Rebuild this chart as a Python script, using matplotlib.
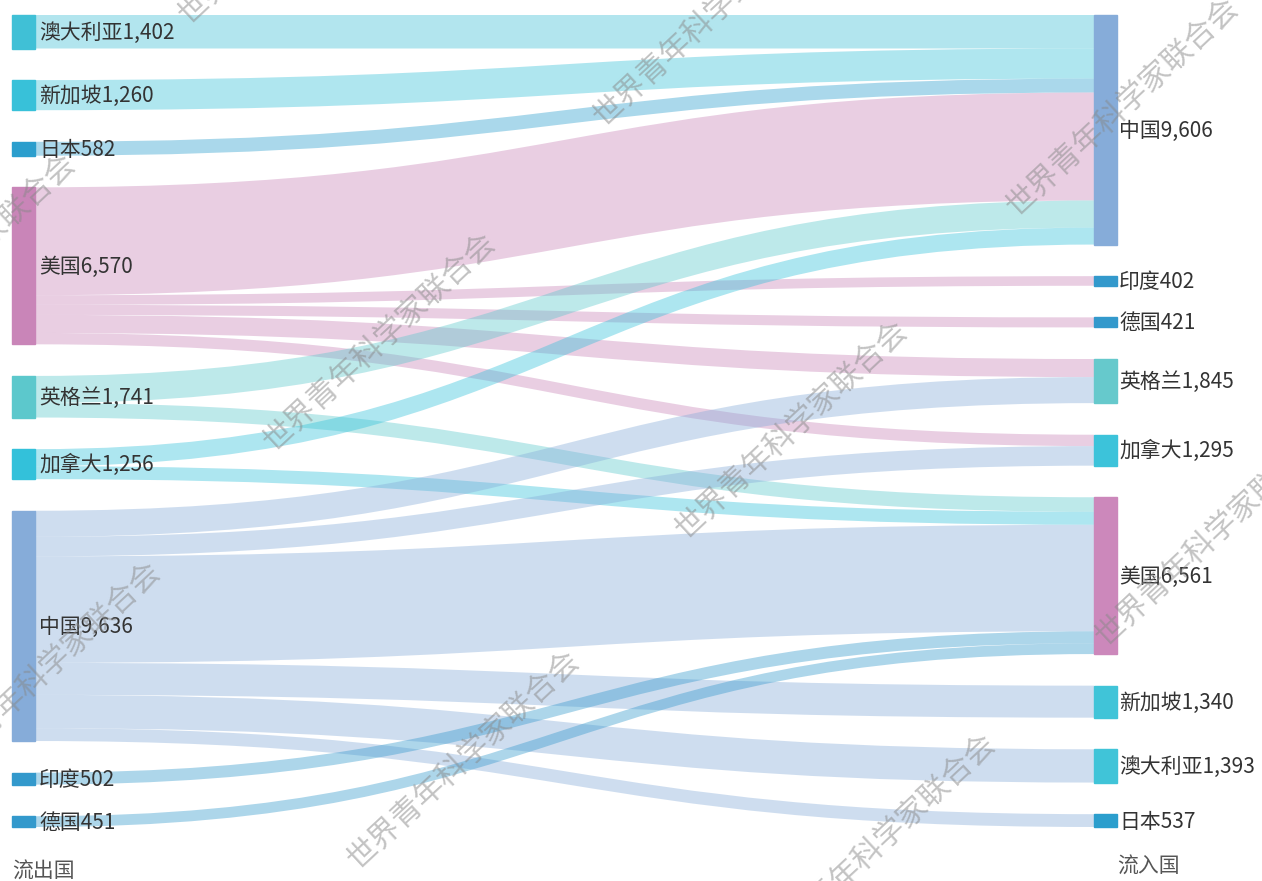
import matplotlib
matplotlib.use("Agg")
import matplotlib.pyplot as plt
from matplotlib.path import Path
from matplotlib.patches import PathPatch, Rectangle

plt.rcParams['font.family'] = ['Noto Sans CJK SC', 'DejaVu Sans']

# node order in each column (top to bottom)
src_nodes = ['澳大利亚', '新加坡', '日本', '美国', '英格兰', '加拿大', '中国', '印度', '德国']
dst_nodes = ['中国', '印度', '德国', '英格兰', '加拿大', '美国', '新加坡', '澳大利亚', '日本']

# flows: source, target, value
flow_src = ['澳大利亚', '新加坡', '日本', '美国', '美国', '美国', '美国', '美国',
            '英格兰', '英格兰', '加拿大', '加拿大',
            '中国', '中国', '中国', '中国', '中国', '中国', '印度', '德国']
flow_dst = ['中国', '中国', '中国', '中国', '印度', '德国', '英格兰', '加拿大',
            '中国', '美国', '中国', '美国',
            '英格兰', '加拿大', '美国', '新加坡', '澳大利亚', '日本', '美国', '美国']
flow_val = [1402, 1260, 582, 4516, 402, 421, 755, 476,
            1133, 608, 713, 543,
            1090, 819, 4457, 1340, 1393, 537, 502, 451]

src_colors = {'澳大利亚': '#40c0d6', '新加坡': '#38c1d9', '日本': '#2b9ecd', '美国': '#c985b8',
              '英格兰': '#5cc8cc', '加拿大': '#33c1da', '中国': '#86acd9', '印度': '#3399cc',
              '德国': '#3399cc'}
dst_colors = {'中国': '#86acd9', '印度': '#3399cc', '德国': '#3399cc', '英格兰': '#66c9cc',
              '加拿大': '#3cc3da', '美国': '#cc88bb', '新加坡': '#40c4d8', '澳大利亚': '#40c4d8',
              '日本': '#2b9ecd'}

# layout (pixels)
W, H = 1262, 881
col_top, col_bottom, gap_px = 15, 827, 31.6
x_left, x_right, node_w = 12, 1094, 23

src_tot = {n: sum(v for s, v in zip(flow_src, flow_val) if s == n) for n in src_nodes}
dst_tot = {n: sum(v for d, v in zip(flow_dst, flow_val) if d == n) for n in dst_nodes}
total = sum(flow_val)
k = (col_bottom - col_top - gap_px * (len(src_nodes) - 1)) / total

fig = plt.figure(figsize=(W / 100, H / 100), dpi=100)
ax = fig.add_axes([0, 0, 1, 1])
ax.set_xlim(0, W)
ax.set_ylim(H, 0)
ax.axis('off')


def stack(nodes, tot):
    pos, y = {}, col_top
    for n in nodes:
        pos[n] = y
        y += tot[n] * k + gap_px
    return pos


src_y = stack(src_nodes, src_tot)
dst_y = stack(dst_nodes, dst_tot)

# links: order at each end by the other end's position
links = list(zip(flow_src, flow_dst, flow_val))
src_off = {n: src_y[n] for n in src_nodes}
dst_off = {n: dst_y[n] for n in dst_nodes}
link_geo = {}
for s in src_nodes:
    for s2, d, v in sorted([l for l in links if l[0] == s], key=lambda l: dst_nodes.index(l[1])):
        link_geo[(s2, d)] = [src_off[s], src_off[s] + v * k]
        src_off[s] += v * k
for d in dst_nodes:
    for s, d2, v in sorted([l for l in links if l[1] == d], key=lambda l: src_nodes.index(l[0])):
        link_geo[(s, d2)] += [dst_off[d], dst_off[d] + v * k]
        dst_off[d] += v * k

x0, x1 = x_left + node_w, x_right
xm = (x0 + x1) / 2
for s, d, v in links:
    a0, a1, b0, b1 = link_geo[(s, d)]
    verts = [(x0, a0), (xm, a0), (xm, b0), (x1, b0), (x1, b1),
             (xm, b1), (xm, a1), (x0, a1), (x0, a0)]
    codes = [Path.MOVETO, Path.CURVE4, Path.CURVE4, Path.CURVE4, Path.LINETO,
             Path.CURVE4, Path.CURVE4, Path.CURVE4, Path.CLOSEPOLY]
    ax.add_patch(PathPatch(Path(verts, codes), facecolor=src_colors[s], alpha=0.4,
                           edgecolor='none', zorder=1))

lab_size = 15
for n in src_nodes:
    h = src_tot[n] * k
    ax.add_patch(Rectangle((x_left, src_y[n]), node_w, h, color=src_colors[n], zorder=2))
    ax.text(x_left + node_w + 4, src_y[n] + h / 2 + 1, f"{n}{src_tot[n]:,}", va='center',
            ha='left', fontsize=lab_size, color='#333333', zorder=4)
for n in dst_nodes:
    h = dst_tot[n] * k
    ax.add_patch(Rectangle((x_right, dst_y[n]), node_w, h, color=dst_colors[n], zorder=2))
    ax.text(x_right + node_w + 2, dst_y[n] + h / 2 + 1, f"{n}{dst_tot[n]:,}", va='center',
            ha='left', fontsize=lab_size, color='#333333', zorder=4)

ax.text(x_left, 872, '流出国', ha='left', va='center', fontsize=lab_size, color='#555555')
ax.text(x_right + node_w, 867, '流入国', ha='left', va='center', fontsize=lab_size, color='#555555')

# watermark
wm_centers = [(295, -85), (710, 17), (1123, 107),
              (-40, 263), (380, 342), (792, 430), (1212, 537),
              (45, 671), (464, 760), (880, 843)]
for cx, cy in wm_centers:
    ax.text(cx, cy, '世界青年科学家联合会', rotation=43, rotation_mode='anchor',
            ha='center', va='center', fontsize=22, color='#888888', alpha=0.5, zorder=5)

fig.savefig('out.png', dpi=100)
